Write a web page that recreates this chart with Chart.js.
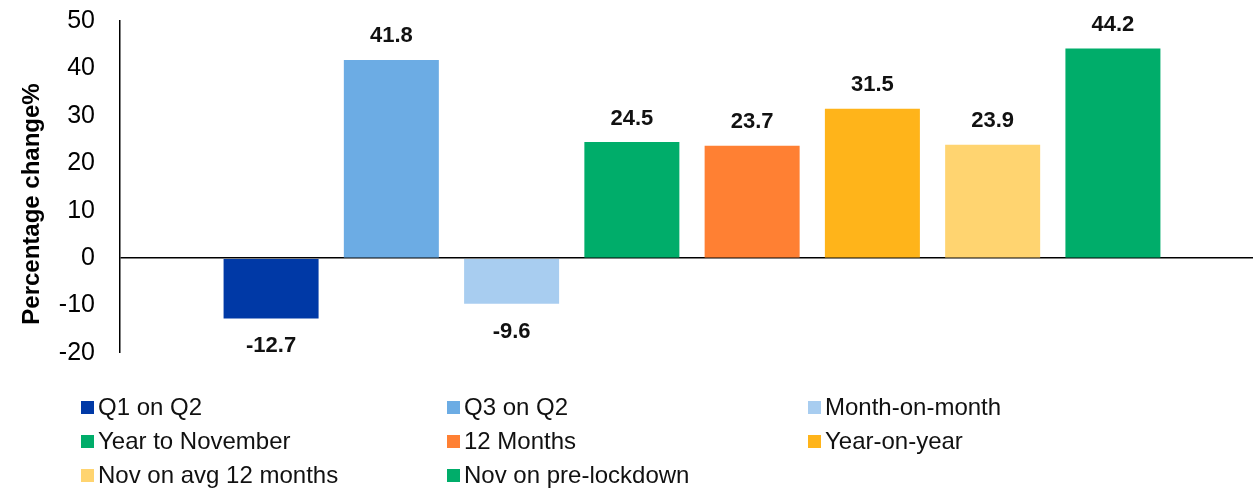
<!DOCTYPE html>
<html>
<head>
<meta charset="utf-8">
<script src="https://cdn.jsdelivr.net/npm/chart.js@4/dist/chart.umd.min.js"></script>
<style>
  html, body { margin: 0; padding: 0; background: #fff; overflow: hidden; width: 1253px; height: 490px; }
  #wrap { position: absolute; left: 0; top: 0; width: 1264px; height: 490px; }
  #legend { position: absolute; left: 0; top: 0; width: 1253px; height: 490px; pointer-events: none;
            font-family: "Liberation Sans", Arial, sans-serif; font-size: 24px; color: #111; }
  .li { position: absolute; display: flex; align-items: center; white-space: nowrap; }
  .sw { width: 13px; height: 13px; margin-right: 4px; }
</style>
</head>
<body>
<div id="wrap"><canvas id="c" width="1264" height="490"></canvas></div>
<div id="legend"></div>
<script>
const seriesNames = ["Q1 on Q2", "Q3 on Q2", "Month-on-month", "Year to November", "12 Months", "Year-on-year", "Nov on avg 12 months", "Nov on pre-lockdown"];
const seriesValues = [-12.7, 41.8, -9.6, 24.5, 23.7, 31.5, 23.9, 44.2];
const seriesColors = ["#0039A6", "#6CACE4", "#A8CDF0", "#00AD6A", "#FF8033", "#FFB41A", "#FFD470", "#00AD6A"];
const yTicks = [-20, -10, 0, 10, 20, 30, 40, 50];

const datasets = seriesNames.map((n, i) => ({
  label: n,
  data: [seriesValues[i]],
  backgroundColor: seriesColors[i],
  borderWidth: 0,
  categoryPercentage: 0.841,
  barPercentage: 0.79
}));

const valueLabels = {
  id: 'valueLabels',
  afterDatasetsDraw(chart) {
    const ctx = chart.ctx;
    ctx.save();
    ctx.font = 'bold 22px "Liberation Sans", Arial, sans-serif';
    ctx.fillStyle = '#111';
    ctx.textAlign = 'center';
    ctx.textBaseline = 'middle';
    chart.data.datasets.forEach((ds, i) => {
      const el = chart.getDatasetMeta(i).data[0];
      const v = ds.data[0];
      const y = v >= 0 ? el.y - 23.5 : el.y + 28;
      ctx.fillText(v.toFixed(1), el.x, y);
    });
    ctx.restore();
  }
};

const yTitle = {
  id: 'yTitle',
  afterDraw(chart) {
    const ctx = chart.ctx;
    ctx.save();
    ctx.translate(32, 204);
    ctx.rotate(-Math.PI / 2);
    ctx.font = 'bold 24px "Liberation Sans", Arial, sans-serif';
    ctx.fillStyle = '#000';
    ctx.textAlign = 'center';
    ctx.textBaseline = 'middle';
    ctx.fillText('Percentage change%', 0, 0);
    ctx.restore();
  }
};

new Chart(document.getElementById('c'), {
  type: 'bar',
  data: { labels: [''], datasets },
  options: {
    responsive: false,
    animation: false,
    layout: { padding: { top: 21, bottom: 137, left: 0, right: 0 } },
    plugins: { legend: { display: false }, tooltip: { enabled: false } },
    scales: {
      x: { display: false },
      y: {
        min: -20, max: 50,
        afterBuildTicks(axis) { axis.ticks = yTicks.map(v => ({ value: v })); },
        afterFit(axis) { axis.width = 120; axis.paddingTop = 0; axis.paddingBottom = 0; },
        border: { display: true, color: '#000', width: 1.5 },
        grid: {
          drawTicks: false,
          color: c => c.tick && c.tick.value === 0 ? '#000' : 'rgba(0,0,0,0)',
          lineWidth: c => c.tick && c.tick.value === 0 ? 1.5 : 0
        },
        ticks: {
          padding: 25,
          color: '#000',
          font: { family: '"Liberation Sans", Arial, sans-serif', size: 25 }
        }
      }
    }
  },
  plugins: [valueLabels, yTitle]
});

const legendPos = [[81, 407], [447, 407], [808, 407], [81, 441], [447, 441], [808, 441], [81, 475], [447, 475]];
const leg = document.getElementById('legend');
seriesNames.forEach((n, i) => {
  const d = document.createElement('div');
  d.className = 'li';
  d.style.left = legendPos[i][0] + 'px';
  d.style.top = (legendPos[i][1] - 14) + 'px';
  d.style.height = '28px';
  d.innerHTML = '<span class="sw" style="background:' + seriesColors[i] + '"></span><span>' + n + '</span>';
  leg.appendChild(d);
});
</script>
</body>
</html>
